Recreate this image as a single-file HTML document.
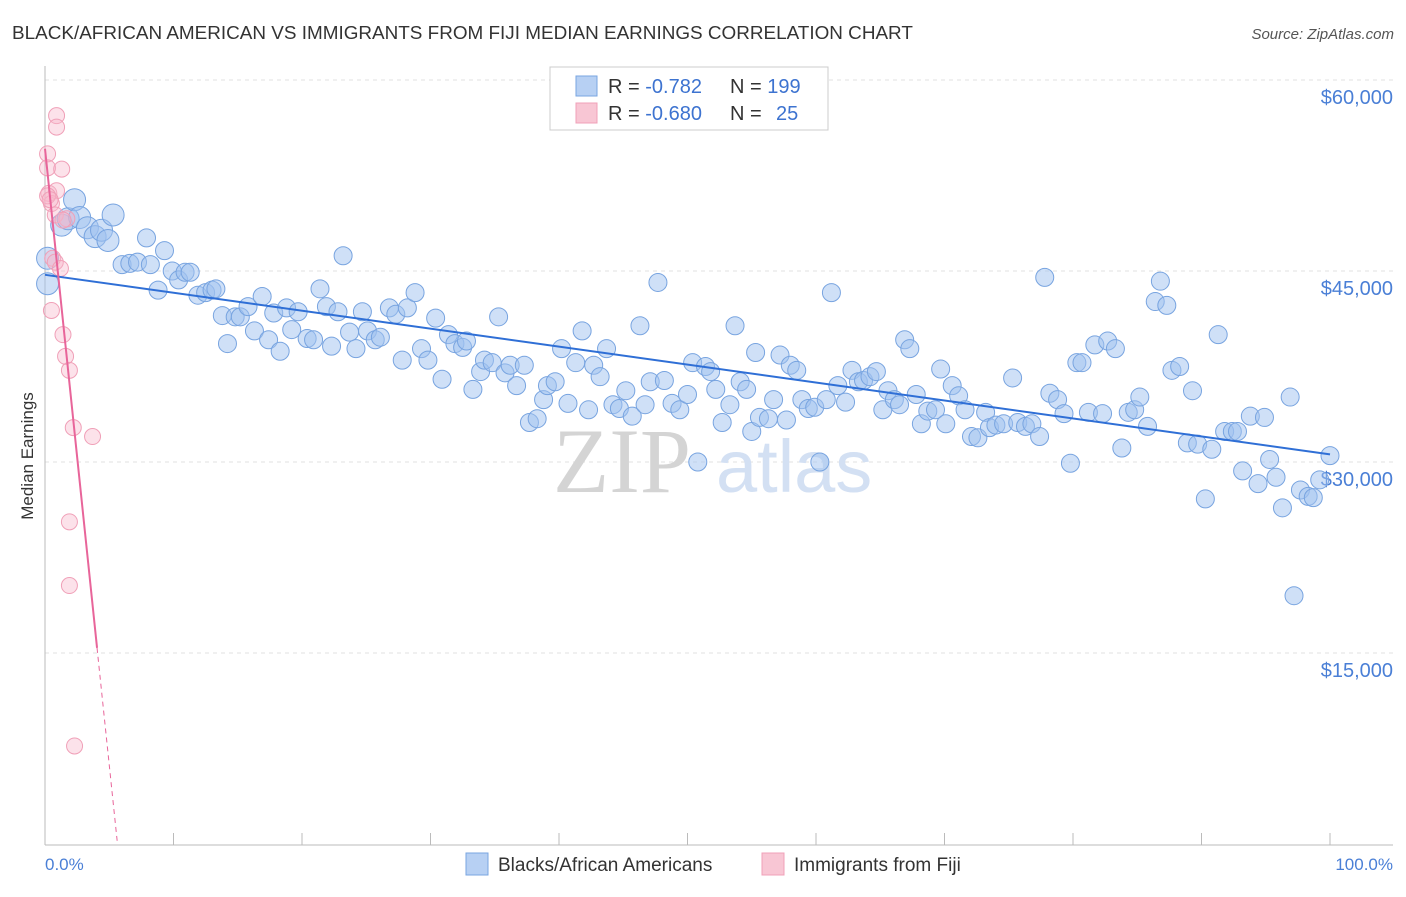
<!DOCTYPE html>
<html><head><meta charset="utf-8"><style>
body{margin:0;background:#fff;width:1406px;height:892px;overflow:hidden;font-family:"Liberation Sans",sans-serif}
</style></head><body>
<svg width="1406" height="892" xmlns="http://www.w3.org/2000/svg">
<text x="12" y="39" font-size="18.9" fill="#333">BLACK/AFRICAN AMERICAN VS IMMIGRANTS FROM FIJI MEDIAN EARNINGS CORRELATION CHART</text>
<text x="1394" y="39" font-size="15" fill="#555" font-style="italic" text-anchor="end">Source: ZipAtlas.com</text>
<g id="grid"></g>
<g>
<text x="553" y="492" font-family="Liberation Serif,serif" font-size="92" fill="#d4d4d4">ZIP</text>
<text x="716" y="492" font-size="74" fill="#d3e0f3">atlas</text>
</g>
<line x1="45" y1="66" x2="45" y2="845" stroke="#bbb"/>
<line x1="45" y1="845" x2="1393" y2="845" stroke="#bbb"/>
<g id="ticks"></g>
<g id="ylabels"></g>
<g id="pts"></g>
<g id="trends"></g>
<text x="33" y="456" font-size="17" fill="#333" text-anchor="middle" transform="rotate(-90 33 456)">Median Earnings</text>
<text x="45" y="870" font-size="17" fill="#4a7fd6">0.0%</text>
<text x="1393" y="870" font-size="17" fill="#4a7fd6" text-anchor="end">100.0%</text>
<g>
<rect x="550" y="67" width="278" height="63" fill="#fff" stroke="#ccc"/>
<rect x="576" y="76" width="21" height="20" fill="#b7d0f3" stroke="#7aa6e0"/>
<rect x="576" y="103" width="21" height="20" fill="#f8c6d4" stroke="#f0a0b8"/>
<text x="608" y="93" font-size="20" fill="#333">R = <tspan fill="#3d73d0">-0.782</tspan><tspan x="730">N = </tspan><tspan fill="#3d73d0">199</tspan></text>
<text x="608" y="120" font-size="20" fill="#333">R = <tspan fill="#3d73d0">-0.680</tspan><tspan x="730">N = </tspan><tspan fill="#3d73d0" x="776">25</tspan></text>
</g>
<g>
<rect x="466" y="853" width="22" height="22" fill="#b7d0f3" stroke="#7aa6e0"/>
<text x="498" y="871" font-size="19" fill="#333">Blacks/African Americans</text>
<rect x="762" y="853" width="22" height="22" fill="#f8c6d4" stroke="#f0a0b8"/>
<text x="794" y="871" font-size="19" fill="#333">Immigrants from Fiji</text>
</g>
</svg>
<script>
const yTicks=[15000,30000,45000,60000];
const yTickLabels=["$15,000","$30,000","$45,000","$60,000"];
const xTicks=[0,10,20,30,40,50,60,70,80,90,100];
const blueX=[0.2,0.2,1.3,1.8,2.3,2.7,3.3,3.9,4.4,4.9,5.3,6.0,6.6,7.2,7.9,8.2,8.8,9.3,9.9,10.4,10.9,11.3,11.9,12.5,13.0,13.3,13.8,14.2,14.8,15.2,15.8,16.3,16.9,17.4,17.8,18.3,18.8,19.2,19.7,20.4,20.9,21.4,21.9,22.3,22.8,23.2,23.7,24.2,24.7,25.1,25.7,26.1,26.8,27.3,27.8,28.2,28.8,29.3,29.8,30.4,30.9,31.4,31.9,32.5,32.8,33.3,33.9,34.2,34.8,35.3,35.8,36.2,36.7,37.3,37.7,38.3,38.8,39.1,39.7,40.2,40.7,41.3,41.8,42.3,42.7,43.2,43.7,44.2,44.7,45.2,45.7,46.3,46.7,47.1,47.7,48.2,48.8,49.4,50.0,50.4,50.8,51.4,51.8,52.2,52.7,53.3,53.7,54.1,54.6,55.0,55.3,55.6,56.3,56.7,57.2,57.7,58.0,58.5,58.9,59.4,59.9,60.3,60.8,61.2,61.7,62.3,62.8,63.3,63.7,64.2,64.7,65.2,65.6,66.1,66.5,66.9,67.3,67.8,68.2,68.7,69.3,69.7,70.1,70.6,71.1,71.6,72.1,72.6,73.2,73.5,74.0,74.6,75.3,75.7,76.3,76.8,77.4,77.8,78.2,78.8,79.3,79.8,80.3,80.7,81.2,81.7,82.3,82.7,83.3,83.8,84.3,84.8,85.2,85.8,86.4,86.8,87.3,87.7,88.3,88.9,89.3,89.7,90.3,90.8,91.3,91.8,92.4,92.8,93.2,93.8,94.4,94.9,95.3,95.8,96.3,96.9,97.2,97.7,98.3,98.7,99.2,100];
const blueY=[46.0,44.0,48.6,49.1,50.6,49.2,48.4,47.7,48.2,47.4,49.4,45.5,45.6,45.7,47.6,45.5,43.5,46.6,45.0,44.3,44.9,44.9,43.1,43.3,43.5,43.6,41.5,39.3,41.4,41.4,42.2,40.3,43.0,39.6,41.7,38.7,42.1,40.4,41.8,39.7,39.6,43.6,42.2,39.1,41.8,46.2,40.2,38.9,41.8,40.3,39.6,39.8,42.1,41.6,38.0,42.1,43.3,38.9,38.0,41.3,36.5,40.0,39.3,39.0,39.5,35.7,37.1,38.0,37.8,41.4,37.0,37.6,36.0,37.6,33.1,33.4,34.9,36.0,36.3,38.9,34.6,37.8,40.3,34.1,37.6,36.7,38.9,34.5,34.2,35.6,33.6,40.7,34.5,36.3,44.1,36.4,34.6,34.1,35.3,37.8,30.0,37.5,37.1,35.7,33.1,34.5,40.7,36.3,35.7,32.4,38.6,33.5,33.4,34.9,38.4,33.3,37.6,37.2,34.9,34.2,34.3,30.0,34.9,43.3,36.0,34.7,37.2,36.3,36.4,36.7,37.1,34.1,35.6,34.9,34.5,39.6,38.9,35.3,33.0,34.0,34.1,37.3,33.0,36.0,35.2,34.1,32.0,31.9,33.9,32.7,32.9,33.0,36.6,33.1,32.8,33.0,32.0,44.5,35.4,34.9,33.8,29.9,37.8,37.8,33.9,39.2,33.8,39.5,38.9,31.1,33.9,34.1,35.1,32.8,42.6,44.2,42.3,37.2,37.5,31.5,35.6,31.4,27.1,31.0,40.0,32.4,32.4,32.4,29.3,33.6,28.3,33.5,30.2,28.8,26.4,35.1,19.5,27.8,27.3,27.2,28.6,30.5];
const pinkX=[0.2,0.2,0.9,0.9,1.3,0.3,0.9,0.5,0.8,1.7,0.6,0.8,1.2,0.5,1.4,1.6,1.9,2.2,3.7,1.9,1.9,2.3,0.2,0.4,1.4];
const pinkY=[54.2,53.1,57.2,56.3,53.0,51.1,51.3,50.3,49.4,49.1,46.0,45.7,45.2,41.9,40.0,38.3,37.2,32.7,32.0,25.3,20.3,7.7,50.9,50.6,49.0];
const blueTrend=[44.7,30.6];
const pinkTrend=[54.6,15.4,4.05];
const NS='http://www.w3.org/2000/svg';
const xs=p=>45+p*12.85;
const ys=v=>844-v*1000/15000*191;
function mk(tag,attrs,parent){const e=document.createElementNS(NS,tag);for(const k in attrs)e.setAttribute(k,attrs[k]);document.getElementById(parent).appendChild(e);return e;}
yTicks.forEach((t,i)=>{
 const l=mk('line',{x1:45,x2:1393,y1:ys(t/1000),y2:ys(t/1000),stroke:'#e2e2e2','stroke-dasharray':'4 4'},'grid');
 
 
 const tx=mk('text',{x:1393,y:ys(t/1000)+24,'font-size':20,fill:'#4a7fd6','text-anchor':'end'},'ylabels');
 tx.textContent=yTickLabels[i];
 
 
});
mk('line',{x1:45,x2:1393,y1:80,y2:80,stroke:'#e2e2e2','stroke-dasharray':'4 4'},'grid');
xTicks.forEach(p=>{
 const l=mk('line',{x1:xs(p),x2:xs(p),y1:833,y2:845,stroke:'#bbb'},'ticks');
 
 
});
blueX.forEach((x,i)=>{
 const r=x<6?11:9;
 const c=mk('circle',{cx:xs(x),cy:ys(blueY[i]),r:r,fill:'rgba(160,193,240,0.5)',stroke:'#78a4e0','stroke-width':1},'pts');
 
 
});
pinkX.forEach((x,i)=>{
 const c=mk('circle',{cx:xs(x),cy:ys(pinkY[i]),r:8,fill:'rgba(248,182,202,0.4)',stroke:'#f0a0b8','stroke-width':1},'pts');
 
 
});
let t=mk('line',{x1:xs(0),y1:ys(blueTrend[0]),x2:xs(100),y2:ys(blueTrend[1]),stroke:'#2f6fd6','stroke-width':2},'trends');


t=mk('line',{x1:xs(0),y1:ys(pinkTrend[0]),x2:xs(pinkTrend[2]),y2:ys(pinkTrend[1]),stroke:'#e8659a','stroke-width':2},'trends');


const slope=(pinkTrend[1]-pinkTrend[0])/pinkTrend[2];
const zx=-pinkTrend[0]/slope;
t=mk('line',{x1:xs(pinkTrend[2]),y1:ys(pinkTrend[1]),x2:xs(zx),y2:ys(0),stroke:'#e8659a','stroke-width':1,'stroke-dasharray':'5 4'},'trends');


</script>
</body></html>
